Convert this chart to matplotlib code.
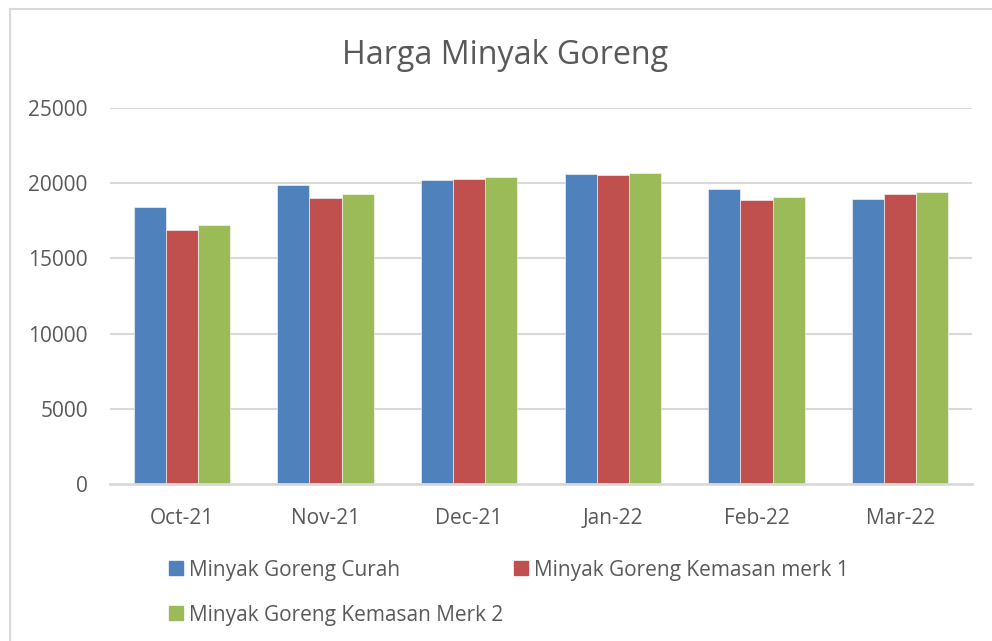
# Harga Minyak Goreng - clustered bar chart (Excel style)

import numpy as np
import matplotlib.pyplot as plt
from matplotlib.patches import Rectangle
from matplotlib.lines import Line2D

plt.rcParams["font.family"] = ["Open Sans", "DejaVu Sans"]

# Data
months = ["Oct-21", "Nov-21", "Dec-21", "Jan-22", "Feb-22", "Mar-22"]
series_names = [
    "Minyak Goreng Curah",
    "Minyak Goreng Kemasan merk 1",
    "Minyak Goreng Kemasan Merk 2",
]
curah = [18400, 19900, 20200, 20600, 19600, 18950]
merk1 = [16900, 19000, 20250, 20550, 18850, 19300]
merk2 = [17200, 19300, 20400, 20700, 19100, 19400]
yticks = [0, 5000, 10000, 15000, 20000, 25000]

colors = ["#4F81BD", "#C0504D", "#9BBB59"]
text_color = "#595959"
grid_color = "#D9D9D9"

W, H = 992, 641
fig = plt.figure(figsize=(W / 100, H / 100), dpi=100)

# outer chart frame (only top/left edges visible in the crop)
fig.add_artist(Line2D([10 / W, 10 / W], [0, 1 - 9 / H], color=grid_color, lw=1.5))
fig.add_artist(Line2D([10 / W, 1], [1 - 9 / H, 1 - 9 / H], color=grid_color, lw=1.5))

ax = fig.add_axes([110 / W, 1 - 484 / H, (972 - 110) / W, (484 - 108) / H])

x = np.arange(len(months))
width = 0.223
for i, vals in enumerate([curah, merk1, merk2]):
    ax.bar(x + (i - 1) * width, vals, width, color=colors[i],
           edgecolor="white", linewidth=0.4, zorder=3)

ax.set_xlim(-0.5, len(months) - 0.5)
ax.set_ylim(0, 25000)
ax.set_yticks(yticks)
ax.set_yticklabels([str(v) for v in yticks])
ax.set_xticks(x)
ax.set_xticklabels(months)
ax.tick_params(length=0, labelsize=15, labelcolor=text_color)
ax.tick_params(axis="y", pad=16)
ax.tick_params(axis="x", pad=17)

for v in yticks[1:]:
    ax.axhline(v, color=grid_color, lw=1.5, zorder=1)
for s in ["top", "right", "left"]:
    ax.spines[s].set_visible(False)
ax.spines["bottom"].set_color(grid_color)
ax.spines["bottom"].set_linewidth(2)
ax.spines["bottom"].set_zorder(4)

fig.text(505 / W, 1 - 56 / H, "Harga Minyak Goreng", ha="center", va="center",
         fontsize=23.2, color=text_color)

# legend entries laid out like Excel (two per row)
legend_pos = [(169, 568), (514, 568), (169, 613)]
for (lx, ly), name, c in zip(legend_pos, series_names, colors):
    fig.add_artist(Rectangle((lx / W, 1 - (ly + 7) / H), 14 / W, 14 / H,
                             transform=fig.transFigure, color=c))
    fig.text((lx + 20) / W, 1 - ly / H, name, ha="left", va="center_baseline",
             fontsize=15, color=text_color)

fig.savefig("out.png", dpi=100)
